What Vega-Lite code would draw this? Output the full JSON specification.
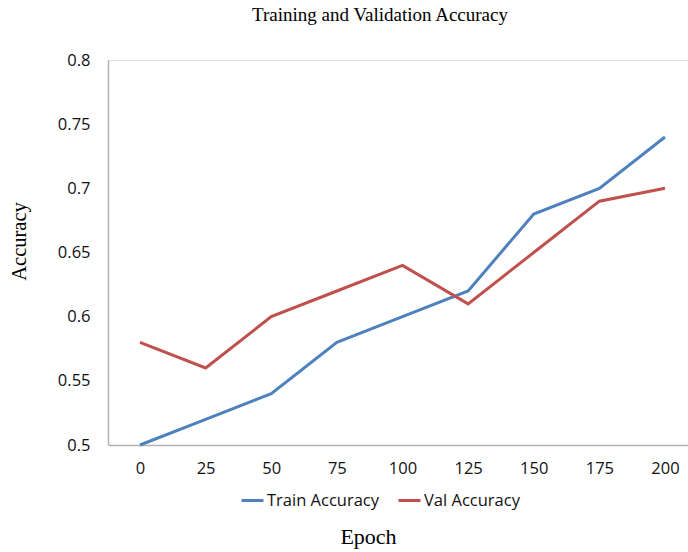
{
  "$schema": "https://vega.github.io/schema/vega-lite/v6.json",
  "autosize": "none",
  "width": 580,
  "height": 385,
  "padding": {"left": 108, "top": 60, "right": 0, "bottom": 107},
  "background": "white",
  "title": {"text": "Training and Validation Accuracy", "font": "Liberation Serif", "fontSize": 19, "fontWeight": "normal", "color": "#000", "anchor": "middle", "offset": 27, "dx": -18},
  "data": {"values": [
    {"epoch": 0, "series": "Train Accuracy", "acc": 0.50},
    {"epoch": 25, "series": "Train Accuracy", "acc": 0.52},
    {"epoch": 50, "series": "Train Accuracy", "acc": 0.54},
    {"epoch": 75, "series": "Train Accuracy", "acc": 0.58},
    {"epoch": 100, "series": "Train Accuracy", "acc": 0.60},
    {"epoch": 125, "series": "Train Accuracy", "acc": 0.62},
    {"epoch": 150, "series": "Train Accuracy", "acc": 0.68},
    {"epoch": 175, "series": "Train Accuracy", "acc": 0.70},
    {"epoch": 200, "series": "Train Accuracy", "acc": 0.74},
    {"epoch": 0, "series": "Val Accuracy", "acc": 0.58},
    {"epoch": 25, "series": "Val Accuracy", "acc": 0.56},
    {"epoch": 50, "series": "Val Accuracy", "acc": 0.60},
    {"epoch": 75, "series": "Val Accuracy", "acc": 0.62},
    {"epoch": 100, "series": "Val Accuracy", "acc": 0.64},
    {"epoch": 125, "series": "Val Accuracy", "acc": 0.61},
    {"epoch": 150, "series": "Val Accuracy", "acc": 0.65},
    {"epoch": 175, "series": "Val Accuracy", "acc": 0.69},
    {"epoch": 200, "series": "Val Accuracy", "acc": 0.70}
  ]},
  "mark": {"type": "line", "strokeWidth": 3},
  "encoding": {
    "x": {"field": "epoch", "type": "quantitative",
      "scale": {"domain": [-12.19, 208.76], "nice": false, "zero": false},
      "axis": {"values": [0, 25, 50, 75, 100, 125, 150, 175, 200], "grid": false, "ticks": false, "domainColor": "#b3b3b3", "domainWidth": 1.5,
        "labelFont": "Open Sans", "labelFontSize": 16.5, "labelColor": "#111", "labelPadding": 15,
        "title": "Epoch", "titleFont": "Liberation Serif", "titleFontSize": 22, "titleFontWeight": "normal", "titleColor": "#000", "titlePadding": 50, "titleX": 260}},
    "y": {"field": "acc", "type": "quantitative",
      "scale": {"domain": [0.5, 0.8], "nice": false, "zero": false},
      "axis": {"values": [0.5, 0.55, 0.6, 0.65, 0.7, 0.75, 0.8], "format": ".2~f", "grid": false, "ticks": false, "domainColor": "#b3b3b3", "domainWidth": 1.5,
        "labelFont": "Open Sans", "labelFontSize": 16.5, "labelColor": "#111", "labelPadding": 18,
        "title": "Accuracy", "titleFont": "Liberation Serif", "titleFontSize": 20.5, "titleFontWeight": "normal", "titleColor": "#000", "titlePadding": 28, "titleY": 181}},
    "color": {"field": "series", "type": "nominal",
      "scale": {"domain": ["Train Accuracy", "Val Accuracy"], "range": ["#4F81BD", "#C0504D"]},
      "legend": {"title": null, "orient": "none", "direction": "horizontal", "legendX": 132, "legendY": 428, "symbolType": "stroke", "symbolStrokeWidth": 3, "symbolSize": 480, "labelFont": "Open Sans", "labelFontSize": 16.5, "labelColor": "#111", "labelOffset": 2, "columnPadding": 12}}
  }
}
